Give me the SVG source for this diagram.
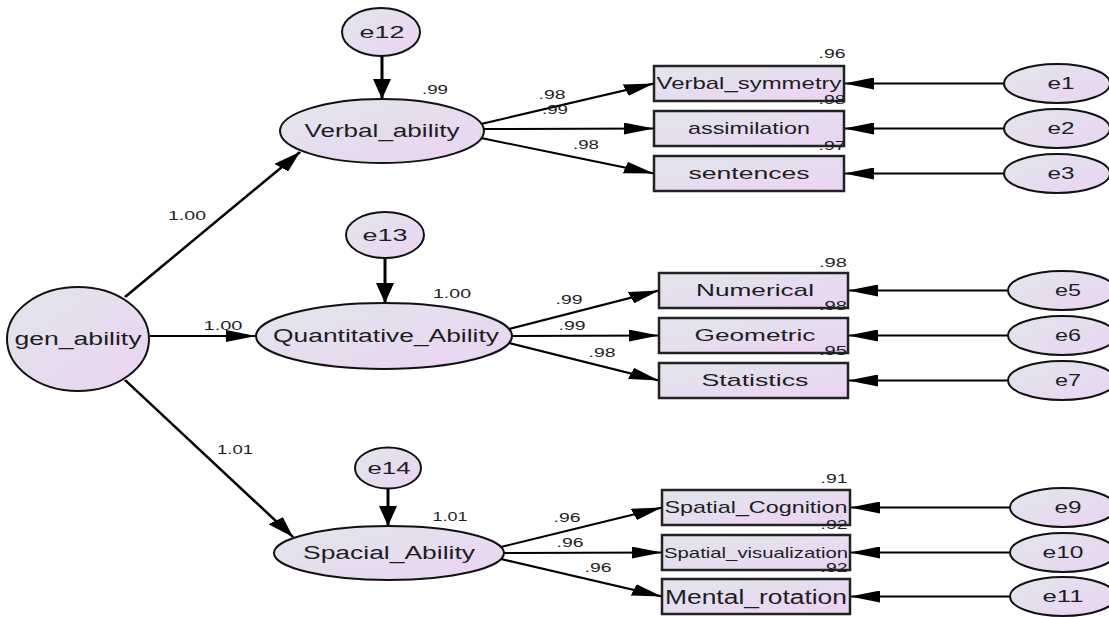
<svg xmlns="http://www.w3.org/2000/svg" width="1109" height="617" viewBox="0 0 1109 617">
<style>
text{font-family:"Liberation Sans",Arial,sans-serif;fill:#1e1e1e;text-anchor:middle;dominant-baseline:central}
.node{fill:url(#g);stroke:#111;stroke-width:2}
.box{fill:url(#g);stroke:#222;stroke-width:2.5}
.lat{font-size:18px}
.obs{font-size:17px}
.err{font-size:17px}
.lbl{font-size:13px}
</style>
<defs>
<linearGradient id="g" x1="0" y1="0" x2="1" y2="1">
<stop offset="0" stop-color="#e1e6ec"/>
<stop offset="1" stop-color="#ecd3f2"/>
</linearGradient>
<marker id="ah" viewBox="0 0 20 12" markerWidth="20" markerHeight="12" refX="20" refY="6" orient="auto" markerUnits="userSpaceOnUse">
<path d="M0,0 L20,6 L0,12 z" fill="#000"/>
</marker>
</defs>
<rect width="1109" height="617" fill="#fff"/>
<g id="connectors" transform="scale(1.5,1)" stroke="#000" stroke-width="2" fill="none" marker-end="url(#ah)">
<path d="M83.33,297 L200,152"/>
<path d="M100,336 L170.67,336"/>
<path d="M83.33,380 L195.33,537"/>
<path d="M254.67,56 L254.67,99"/>
<path d="M256.67,258 L256.67,303"/>
<path d="M258.67,488 L258.67,526"/>
<path d="M320.67,124 L436,83.5"/>
<path d="M322.67,129 L436,128.5"/>
<path d="M320.67,138 L436,173.5"/>
<path d="M339.33,329 L439.33,290.5"/>
<path d="M341.33,336 L439.33,335.5"/>
<path d="M339.33,343 L439.33,380.5"/>
<path d="M334,547 L441.33,507.5"/>
<path d="M336,553 L441.33,552.5"/>
<path d="M334,559 L441.33,596.5"/>
<path d="M668.67,83.5 L562.67,83.5"/>
<path d="M668.67,128.5 L562.67,128.5"/>
<path d="M668.67,173.5 L562.67,173.5"/>
<path d="M672,290.5 L565.33,290.5"/>
<path d="M672,335.5 L565.33,335.5"/>
<path d="M672,380.5 L565.33,380.5"/>
<path d="M673.33,507.5 L566.67,507.5"/>
<path d="M673.33,552.5 L566.67,552.5"/>
<path d="M673.33,596.5 L566.67,596.5"/>
</g>
<g id="gen_ability"><ellipse class="node" cx="78" cy="339" rx="71" ry="52"/><text class="lat" x="78" y="339" textLength="127" lengthAdjust="spacingAndGlyphs">gen_ability</text></g>
<g id="Verbal_ability"><ellipse class="node" cx="382" cy="131" rx="102" ry="32"/><text class="lat" x="382" y="131" textLength="155" lengthAdjust="spacingAndGlyphs">Verbal_ability</text></g>
<g id="Quantitative_Ability"><ellipse class="node" cx="384" cy="336" rx="128" ry="33"/><text class="lat" x="386" y="336" textLength="226" lengthAdjust="spacingAndGlyphs">Quantitative_Ability</text></g>
<g id="Spacial_Ability"><ellipse class="node" cx="389" cy="553" rx="115" ry="27"/><text class="lat" x="389" y="553" textLength="172" lengthAdjust="spacingAndGlyphs">Spacial_Ability</text></g>
<g id="e12"><ellipse class="node" cx="381" cy="32" rx="39" ry="24"/><text class="err" x="382" y="32" textLength="45" lengthAdjust="spacingAndGlyphs">e12</text></g>
<g id="e13"><ellipse class="node" cx="385" cy="235" rx="39" ry="23"/><text class="err" x="385" y="235" textLength="45" lengthAdjust="spacingAndGlyphs">e13</text></g>
<g id="e14"><ellipse class="node" cx="388" cy="468" rx="33" ry="20.5"/><text class="err" x="389" y="468" textLength="43" lengthAdjust="spacingAndGlyphs">e14</text></g>
<g id="Verbal_symmetry"><rect class="box" x="654" y="66" width="190" height="35"/><text class="obs" x="749" y="83.5" textLength="185" lengthAdjust="spacingAndGlyphs">Verbal_symmetry</text></g>
<g id="assimilation"><rect class="box" x="654" y="111" width="190" height="35"/><text class="obs" x="749" y="128.5" textLength="122" lengthAdjust="spacingAndGlyphs">assimilation</text></g>
<g id="sentences"><rect class="box" x="654" y="156" width="190" height="35"/><text class="obs" x="749" y="173.5" textLength="121" lengthAdjust="spacingAndGlyphs">sentences</text></g>
<g id="Numerical"><rect class="box" x="659" y="273" width="189" height="35"/><text class="obs" x="755" y="290.5" textLength="118" lengthAdjust="spacingAndGlyphs">Numerical</text></g>
<g id="Geometric"><rect class="box" x="659" y="318" width="189" height="35"/><text class="obs" x="755" y="335.5" textLength="121" lengthAdjust="spacingAndGlyphs">Geometric</text></g>
<g id="Statistics"><rect class="box" x="659" y="363" width="189" height="35"/><text class="obs" x="755" y="380.5" textLength="107" lengthAdjust="spacingAndGlyphs">Statistics</text></g>
<g id="Spatial_Cognition"><rect class="box" x="662" y="490" width="188" height="35"/><text class="obs" x="756" y="507.5" textLength="183" lengthAdjust="spacingAndGlyphs">Spatial_Cognition</text></g>
<g id="Spatial_visualization"><rect class="box" x="662" y="535" width="188" height="35"/><text x="756" y="552.5" style="font-size:15px" textLength="184" lengthAdjust="spacingAndGlyphs">Spatial_visualization</text></g>
<g id="Mental_rotation"><rect class="box" x="662" y="579" width="188" height="35"/><text x="756" y="596.5" style="font-size:20px" textLength="182" lengthAdjust="spacingAndGlyphs">Mental_rotation</text></g>
<g id="e1"><ellipse class="node" cx="1057" cy="83.5" rx="53" ry="19.5"/><text class="err" x="1061" y="83.5" textLength="27" lengthAdjust="spacingAndGlyphs">e1</text></g>
<g id="e2"><ellipse class="node" cx="1057" cy="128.5" rx="53" ry="19.5"/><text class="err" x="1061" y="128.5" textLength="27" lengthAdjust="spacingAndGlyphs">e2</text></g>
<g id="e3"><ellipse class="node" cx="1057" cy="173.5" rx="53" ry="19.5"/><text class="err" x="1061" y="173.5" textLength="27" lengthAdjust="spacingAndGlyphs">e3</text></g>
<g id="e5"><ellipse class="node" cx="1062" cy="290.5" rx="54" ry="19.5"/><text class="err" x="1068" y="290.5" textLength="26" lengthAdjust="spacingAndGlyphs">e5</text></g>
<g id="e6"><ellipse class="node" cx="1062" cy="335.5" rx="54" ry="19.5"/><text class="err" x="1068" y="335.5" textLength="26" lengthAdjust="spacingAndGlyphs">e6</text></g>
<g id="e7"><ellipse class="node" cx="1062" cy="380.5" rx="54" ry="19.5"/><text class="err" x="1068" y="380.5" textLength="26" lengthAdjust="spacingAndGlyphs">e7</text></g>
<g id="e9"><ellipse class="node" cx="1063" cy="507.5" rx="53" ry="19.5"/><text class="err" x="1068" y="507.5" textLength="27" lengthAdjust="spacingAndGlyphs">e9</text></g>
<g id="e10"><ellipse class="node" cx="1063" cy="552.5" rx="53" ry="19.5"/><text class="err" x="1063" y="552.5" textLength="41" lengthAdjust="spacingAndGlyphs">e10</text></g>
<g id="e11"><ellipse class="node" cx="1063" cy="596.5" rx="53" ry="19.5"/><text class="err" x="1063" y="596.5" textLength="41" lengthAdjust="spacingAndGlyphs">e11</text></g>
<g id="labels" class="lbl">
<text class="lbl" x="187" y="215" textLength="38" lengthAdjust="spacingAndGlyphs">1.00</text>
<text class="lbl" x="223" y="325" textLength="39" lengthAdjust="spacingAndGlyphs">1.00</text>
<text class="lbl" x="235" y="449" textLength="36" lengthAdjust="spacingAndGlyphs">1.01</text>
<text class="lbl" x="435" y="89" textLength="26" lengthAdjust="spacingAndGlyphs">.99</text>
<text class="lbl" x="452" y="293" textLength="38" lengthAdjust="spacingAndGlyphs">1.00</text>
<text class="lbl" x="450" y="516" textLength="35" lengthAdjust="spacingAndGlyphs">1.01</text>
<text class="lbl" x="552" y="94" textLength="27" lengthAdjust="spacingAndGlyphs">.98</text>
<text class="lbl" x="555" y="109" textLength="26" lengthAdjust="spacingAndGlyphs">.99</text>
<text class="lbl" x="586" y="144" textLength="26" lengthAdjust="spacingAndGlyphs">.98</text>
<text class="lbl" x="569" y="299" textLength="27" lengthAdjust="spacingAndGlyphs">.99</text>
<text class="lbl" x="572" y="325" textLength="27" lengthAdjust="spacingAndGlyphs">.99</text>
<text class="lbl" x="602" y="352" textLength="27" lengthAdjust="spacingAndGlyphs">.98</text>
<text class="lbl" x="567" y="517" textLength="27" lengthAdjust="spacingAndGlyphs">.96</text>
<text class="lbl" x="570" y="542" textLength="27" lengthAdjust="spacingAndGlyphs">.96</text>
<text class="lbl" x="598" y="567" textLength="27" lengthAdjust="spacingAndGlyphs">.96</text>
<text class="lbl" x="832" y="53" textLength="27" lengthAdjust="spacingAndGlyphs">.96</text>
<text class="lbl" x="832" y="99" textLength="27" lengthAdjust="spacingAndGlyphs">.98</text>
<text class="lbl" x="832" y="145" textLength="27" lengthAdjust="spacingAndGlyphs">.97</text>
<text class="lbl" x="833" y="262" textLength="28" lengthAdjust="spacingAndGlyphs">.98</text>
<text class="lbl" x="833" y="305" textLength="28" lengthAdjust="spacingAndGlyphs">.98</text>
<text class="lbl" x="833" y="350" textLength="28" lengthAdjust="spacingAndGlyphs">.95</text>
<text class="lbl" x="834" y="478" textLength="27" lengthAdjust="spacingAndGlyphs">.91</text>
<text class="lbl" x="834" y="524" textLength="27" lengthAdjust="spacingAndGlyphs">.92</text>
<text class="lbl" x="834" y="567" textLength="27" lengthAdjust="spacingAndGlyphs">.92</text>
</g>
</svg>
